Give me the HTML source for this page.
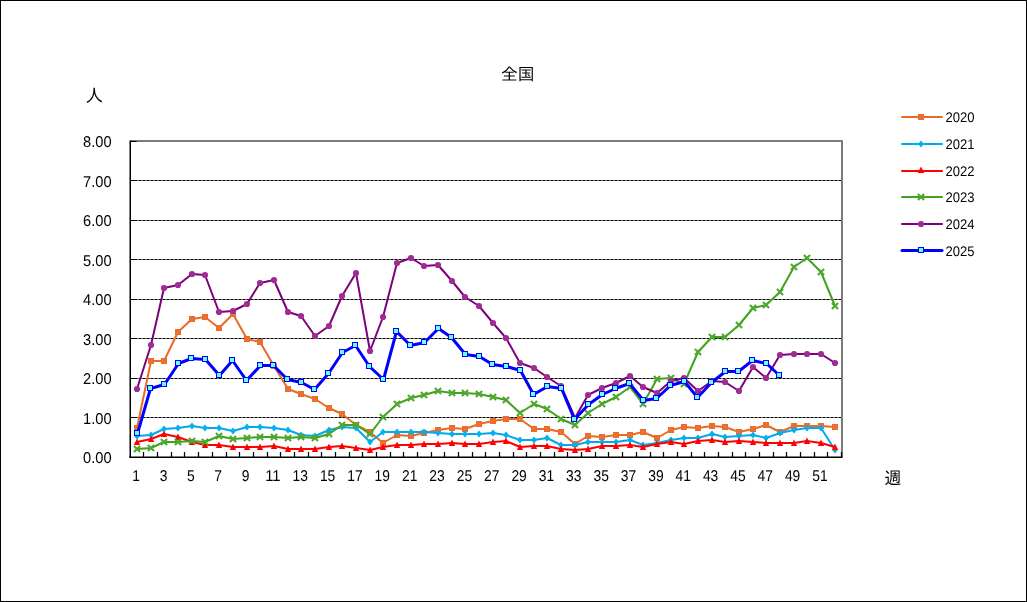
<!DOCTYPE html>
<html lang="ja"><head><meta charset="utf-8"><title>全国</title>
<style>html,body{margin:0;padding:0;background:#fff;}body{width:1027px;height:602px;overflow:hidden;}svg{display:block;font-family:"Liberation Sans","IPAGothic","Noto Sans CJK JP",sans-serif;fill:#000;}.t{font-size:15.6px;text-rendering:geometricPrecision;}.l{font-size:14px;text-rendering:geometricPrecision;}.j{font-size:17px;font-family:"Liberation Sans","IPAGothic","Noto Sans CJK JP",sans-serif;}</style></head><body>
<svg width="1027" height="602" viewBox="0 0 1027 602">
<rect x="0" y="0" width="1027" height="602" fill="#fff"/>
<rect x="0.5" y="0.5" width="1026" height="601" fill="none" stroke="#000" stroke-width="1" shape-rendering="crispEdges"/>
<g stroke="#000" stroke-width="1" stroke-dasharray="3.2 0.8" fill="none">
<line x1="130.4" y1="180.5" x2="841" y2="180.5"/>
<line x1="130.4" y1="220.5" x2="841" y2="220.5"/>
<line x1="130.4" y1="259.5" x2="841" y2="259.5"/>
<line x1="130.4" y1="299.5" x2="841" y2="299.5"/>
<line x1="130.4" y1="338.5" x2="841" y2="338.5"/>
<line x1="130.4" y1="378.5" x2="841" y2="378.5"/>
<line x1="130.4" y1="417.5" x2="841" y2="417.5"/>
</g>
<path d="M130 141H842V457" fill="none" stroke="#7B7B7B" stroke-width="2" stroke-linejoin="round"/>
<rect x="129.5" y="140.5" width="1.5" height="317.5" fill="#000"/>
<rect x="129.5" y="456.5" width="713" height="1.5" fill="#000"/>
<path d="M131 141.5h5.5M131 180.5h5.5M131 220.5h5.5M131 259.5h5.5M131 299.5h5.5M131 338.5h5.5M131 378.5h5.5M131 417.5h5.5" stroke="#000" stroke-width="1" fill="none"/>
<path d="M143.5 457v-5M157.5 457v-5M171.5 457v-5M184.5 457v-5M198.5 457v-5M212.5 457v-5M226.5 457v-5M239.5 457v-5M253.5 457v-5M267.5 457v-5M280.5 457v-5M294.5 457v-5M308.5 457v-5M321.5 457v-5M335.5 457v-5M349.5 457v-5M362.5 457v-5M376.5 457v-5M390.5 457v-5M403.5 457v-5M417.5 457v-5M431.5 457v-5M444.5 457v-5M458.5 457v-5M472.5 457v-5M485.5 457v-5M499.5 457v-5M513.5 457v-5M526.5 457v-5M540.5 457v-5M554.5 457v-5M567.5 457v-5M581.5 457v-5M595.5 457v-5M608.5 457v-5M622.5 457v-5M636.5 457v-5M650.5 457v-5M663.5 457v-5M677.5 457v-5M691.5 457v-5M704.5 457v-5M718.5 457v-5M732.5 457v-5M745.5 457v-5M759.5 457v-5M773.5 457v-5M786.5 457v-5M800.5 457v-5M814.5 457v-5M827.5 457v-5M841.5 457v-5" stroke="#000" stroke-width="1.25" fill="none"/>
<g><polyline points="137,428 151,361 164,361 178,332 192,319 205,317 219,328 233,314 247,339 260,342 274,366 288,389 301,394 315,399 329,408 342,414 356,425 370,432 383,443 397,435 411,436 424,433 438,430 452,428 465,429 479,424 493,421 506,419 520,419 534,429 547,429 561,432 575,444 588,436 602,437 616,435 630,435 643,432 657,438 671,430 684,427 698,428 712,426 725,427 739,432 753,429 766,425 780,432 794,426 807,426 821,426 835,427" fill="none" stroke="#E96A25" stroke-width="2" stroke-linejoin="round" stroke-linecap="round"/>
<rect x="134" y="425" width="6" height="6" fill="#E97132"/><rect x="134.5" y="425.5" width="5" height="5" fill="none" stroke="#E96A25" stroke-opacity="0.6"/><rect x="148" y="358" width="6" height="6" fill="#E97132"/><rect x="148.5" y="358.5" width="5" height="5" fill="none" stroke="#E96A25" stroke-opacity="0.6"/><rect x="161" y="358" width="6" height="6" fill="#E97132"/><rect x="161.5" y="358.5" width="5" height="5" fill="none" stroke="#E96A25" stroke-opacity="0.6"/><rect x="175" y="329" width="6" height="6" fill="#E97132"/><rect x="175.5" y="329.5" width="5" height="5" fill="none" stroke="#E96A25" stroke-opacity="0.6"/><rect x="189" y="316" width="6" height="6" fill="#E97132"/><rect x="189.5" y="316.5" width="5" height="5" fill="none" stroke="#E96A25" stroke-opacity="0.6"/><rect x="202" y="314" width="6" height="6" fill="#E97132"/><rect x="202.5" y="314.5" width="5" height="5" fill="none" stroke="#E96A25" stroke-opacity="0.6"/><rect x="216" y="325" width="6" height="6" fill="#E97132"/><rect x="216.5" y="325.5" width="5" height="5" fill="none" stroke="#E96A25" stroke-opacity="0.6"/><rect x="230" y="311" width="6" height="6" fill="#E97132"/><rect x="230.5" y="311.5" width="5" height="5" fill="none" stroke="#E96A25" stroke-opacity="0.6"/><rect x="244" y="336" width="6" height="6" fill="#E97132"/><rect x="244.5" y="336.5" width="5" height="5" fill="none" stroke="#E96A25" stroke-opacity="0.6"/><rect x="257" y="339" width="6" height="6" fill="#E97132"/><rect x="257.5" y="339.5" width="5" height="5" fill="none" stroke="#E96A25" stroke-opacity="0.6"/><rect x="271" y="363" width="6" height="6" fill="#E97132"/><rect x="271.5" y="363.5" width="5" height="5" fill="none" stroke="#E96A25" stroke-opacity="0.6"/><rect x="285" y="386" width="6" height="6" fill="#E97132"/><rect x="285.5" y="386.5" width="5" height="5" fill="none" stroke="#E96A25" stroke-opacity="0.6"/><rect x="298" y="391" width="6" height="6" fill="#E97132"/><rect x="298.5" y="391.5" width="5" height="5" fill="none" stroke="#E96A25" stroke-opacity="0.6"/><rect x="312" y="396" width="6" height="6" fill="#E97132"/><rect x="312.5" y="396.5" width="5" height="5" fill="none" stroke="#E96A25" stroke-opacity="0.6"/><rect x="326" y="405" width="6" height="6" fill="#E97132"/><rect x="326.5" y="405.5" width="5" height="5" fill="none" stroke="#E96A25" stroke-opacity="0.6"/><rect x="339" y="411" width="6" height="6" fill="#E97132"/><rect x="339.5" y="411.5" width="5" height="5" fill="none" stroke="#E96A25" stroke-opacity="0.6"/><rect x="353" y="422" width="6" height="6" fill="#E97132"/><rect x="353.5" y="422.5" width="5" height="5" fill="none" stroke="#E96A25" stroke-opacity="0.6"/><rect x="367" y="429" width="6" height="6" fill="#E97132"/><rect x="367.5" y="429.5" width="5" height="5" fill="none" stroke="#E96A25" stroke-opacity="0.6"/><rect x="380" y="440" width="6" height="6" fill="#E97132"/><rect x="380.5" y="440.5" width="5" height="5" fill="none" stroke="#E96A25" stroke-opacity="0.6"/><rect x="394" y="432" width="6" height="6" fill="#E97132"/><rect x="394.5" y="432.5" width="5" height="5" fill="none" stroke="#E96A25" stroke-opacity="0.6"/><rect x="408" y="433" width="6" height="6" fill="#E97132"/><rect x="408.5" y="433.5" width="5" height="5" fill="none" stroke="#E96A25" stroke-opacity="0.6"/><rect x="421" y="430" width="6" height="6" fill="#E97132"/><rect x="421.5" y="430.5" width="5" height="5" fill="none" stroke="#E96A25" stroke-opacity="0.6"/><rect x="435" y="427" width="6" height="6" fill="#E97132"/><rect x="435.5" y="427.5" width="5" height="5" fill="none" stroke="#E96A25" stroke-opacity="0.6"/><rect x="449" y="425" width="6" height="6" fill="#E97132"/><rect x="449.5" y="425.5" width="5" height="5" fill="none" stroke="#E96A25" stroke-opacity="0.6"/><rect x="462" y="426" width="6" height="6" fill="#E97132"/><rect x="462.5" y="426.5" width="5" height="5" fill="none" stroke="#E96A25" stroke-opacity="0.6"/><rect x="476" y="421" width="6" height="6" fill="#E97132"/><rect x="476.5" y="421.5" width="5" height="5" fill="none" stroke="#E96A25" stroke-opacity="0.6"/><rect x="490" y="418" width="6" height="6" fill="#E97132"/><rect x="490.5" y="418.5" width="5" height="5" fill="none" stroke="#E96A25" stroke-opacity="0.6"/><rect x="503" y="416" width="6" height="6" fill="#E97132"/><rect x="503.5" y="416.5" width="5" height="5" fill="none" stroke="#E96A25" stroke-opacity="0.6"/><rect x="517" y="416" width="6" height="6" fill="#E97132"/><rect x="517.5" y="416.5" width="5" height="5" fill="none" stroke="#E96A25" stroke-opacity="0.6"/><rect x="531" y="426" width="6" height="6" fill="#E97132"/><rect x="531.5" y="426.5" width="5" height="5" fill="none" stroke="#E96A25" stroke-opacity="0.6"/><rect x="544" y="426" width="6" height="6" fill="#E97132"/><rect x="544.5" y="426.5" width="5" height="5" fill="none" stroke="#E96A25" stroke-opacity="0.6"/><rect x="558" y="429" width="6" height="6" fill="#E97132"/><rect x="558.5" y="429.5" width="5" height="5" fill="none" stroke="#E96A25" stroke-opacity="0.6"/><rect x="572" y="441" width="6" height="6" fill="#E97132"/><rect x="572.5" y="441.5" width="5" height="5" fill="none" stroke="#E96A25" stroke-opacity="0.6"/><rect x="585" y="433" width="6" height="6" fill="#E97132"/><rect x="585.5" y="433.5" width="5" height="5" fill="none" stroke="#E96A25" stroke-opacity="0.6"/><rect x="599" y="434" width="6" height="6" fill="#E97132"/><rect x="599.5" y="434.5" width="5" height="5" fill="none" stroke="#E96A25" stroke-opacity="0.6"/><rect x="613" y="432" width="6" height="6" fill="#E97132"/><rect x="613.5" y="432.5" width="5" height="5" fill="none" stroke="#E96A25" stroke-opacity="0.6"/><rect x="627" y="432" width="6" height="6" fill="#E97132"/><rect x="627.5" y="432.5" width="5" height="5" fill="none" stroke="#E96A25" stroke-opacity="0.6"/><rect x="640" y="429" width="6" height="6" fill="#E97132"/><rect x="640.5" y="429.5" width="5" height="5" fill="none" stroke="#E96A25" stroke-opacity="0.6"/><rect x="654" y="435" width="6" height="6" fill="#E97132"/><rect x="654.5" y="435.5" width="5" height="5" fill="none" stroke="#E96A25" stroke-opacity="0.6"/><rect x="668" y="427" width="6" height="6" fill="#E97132"/><rect x="668.5" y="427.5" width="5" height="5" fill="none" stroke="#E96A25" stroke-opacity="0.6"/><rect x="681" y="424" width="6" height="6" fill="#E97132"/><rect x="681.5" y="424.5" width="5" height="5" fill="none" stroke="#E96A25" stroke-opacity="0.6"/><rect x="695" y="425" width="6" height="6" fill="#E97132"/><rect x="695.5" y="425.5" width="5" height="5" fill="none" stroke="#E96A25" stroke-opacity="0.6"/><rect x="709" y="423" width="6" height="6" fill="#E97132"/><rect x="709.5" y="423.5" width="5" height="5" fill="none" stroke="#E96A25" stroke-opacity="0.6"/><rect x="722" y="424" width="6" height="6" fill="#E97132"/><rect x="722.5" y="424.5" width="5" height="5" fill="none" stroke="#E96A25" stroke-opacity="0.6"/><rect x="736" y="429" width="6" height="6" fill="#E97132"/><rect x="736.5" y="429.5" width="5" height="5" fill="none" stroke="#E96A25" stroke-opacity="0.6"/><rect x="750" y="426" width="6" height="6" fill="#E97132"/><rect x="750.5" y="426.5" width="5" height="5" fill="none" stroke="#E96A25" stroke-opacity="0.6"/><rect x="763" y="422" width="6" height="6" fill="#E97132"/><rect x="763.5" y="422.5" width="5" height="5" fill="none" stroke="#E96A25" stroke-opacity="0.6"/><rect x="777" y="429" width="6" height="6" fill="#E97132"/><rect x="777.5" y="429.5" width="5" height="5" fill="none" stroke="#E96A25" stroke-opacity="0.6"/><rect x="791" y="423" width="6" height="6" fill="#E97132"/><rect x="791.5" y="423.5" width="5" height="5" fill="none" stroke="#E96A25" stroke-opacity="0.6"/><rect x="804" y="423" width="6" height="6" fill="#E97132"/><rect x="804.5" y="423.5" width="5" height="5" fill="none" stroke="#E96A25" stroke-opacity="0.6"/><rect x="818" y="423" width="6" height="6" fill="#E97132"/><rect x="818.5" y="423.5" width="5" height="5" fill="none" stroke="#E96A25" stroke-opacity="0.6"/><rect x="832" y="424" width="6" height="6" fill="#E97132"/><rect x="832.5" y="424.5" width="5" height="5" fill="none" stroke="#E96A25" stroke-opacity="0.6"/>
</g>
<g><polyline points="137,436 151,435 164,429 178,428 192,426 205,428 219,428 233,431 247,427 260,427 274,428 288,430 301,435 315,436 329,430 342,427 356,428 370,442 383,432 397,432 411,432 424,432 438,433 452,434 465,434 479,434 493,433 506,435 520,440 534,440 547,438 561,445 575,445 588,442 602,442 616,442 630,440 643,445 657,443 671,440 684,438 698,438 712,434 725,437 739,436 753,435 766,438 780,433 794,430 807,428 821,428 835,450" fill="none" stroke="#00A9EE" stroke-width="2" stroke-linejoin="round" stroke-linecap="round"/>
<path d="M137 432.6L139.9 436L137 439.4L134.1 436Z" fill="#00B0F0"/><path d="M151 431.6L153.9 435L151 438.4L148.1 435Z" fill="#00B0F0"/><path d="M164 425.6L166.9 429L164 432.4L161.1 429Z" fill="#00B0F0"/><path d="M178 424.6L180.9 428L178 431.4L175.1 428Z" fill="#00B0F0"/><path d="M192 422.6L194.9 426L192 429.4L189.1 426Z" fill="#00B0F0"/><path d="M205 424.6L207.9 428L205 431.4L202.1 428Z" fill="#00B0F0"/><path d="M219 424.6L221.9 428L219 431.4L216.1 428Z" fill="#00B0F0"/><path d="M233 427.6L235.9 431L233 434.4L230.1 431Z" fill="#00B0F0"/><path d="M247 423.6L249.9 427L247 430.4L244.1 427Z" fill="#00B0F0"/><path d="M260 423.6L262.9 427L260 430.4L257.1 427Z" fill="#00B0F0"/><path d="M274 424.6L276.9 428L274 431.4L271.1 428Z" fill="#00B0F0"/><path d="M288 426.6L290.9 430L288 433.4L285.1 430Z" fill="#00B0F0"/><path d="M301 431.6L303.9 435L301 438.4L298.1 435Z" fill="#00B0F0"/><path d="M315 432.6L317.9 436L315 439.4L312.1 436Z" fill="#00B0F0"/><path d="M329 426.6L331.9 430L329 433.4L326.1 430Z" fill="#00B0F0"/><path d="M342 423.6L344.9 427L342 430.4L339.1 427Z" fill="#00B0F0"/><path d="M356 424.6L358.9 428L356 431.4L353.1 428Z" fill="#00B0F0"/><path d="M370 438.6L372.9 442L370 445.4L367.1 442Z" fill="#00B0F0"/><path d="M383 428.6L385.9 432L383 435.4L380.1 432Z" fill="#00B0F0"/><path d="M397 428.6L399.9 432L397 435.4L394.1 432Z" fill="#00B0F0"/><path d="M411 428.6L413.9 432L411 435.4L408.1 432Z" fill="#00B0F0"/><path d="M424 428.6L426.9 432L424 435.4L421.1 432Z" fill="#00B0F0"/><path d="M438 429.6L440.9 433L438 436.4L435.1 433Z" fill="#00B0F0"/><path d="M452 430.6L454.9 434L452 437.4L449.1 434Z" fill="#00B0F0"/><path d="M465 430.6L467.9 434L465 437.4L462.1 434Z" fill="#00B0F0"/><path d="M479 430.6L481.9 434L479 437.4L476.1 434Z" fill="#00B0F0"/><path d="M493 429.6L495.9 433L493 436.4L490.1 433Z" fill="#00B0F0"/><path d="M506 431.6L508.9 435L506 438.4L503.1 435Z" fill="#00B0F0"/><path d="M520 436.6L522.9 440L520 443.4L517.1 440Z" fill="#00B0F0"/><path d="M534 436.6L536.9 440L534 443.4L531.1 440Z" fill="#00B0F0"/><path d="M547 434.6L549.9 438L547 441.4L544.1 438Z" fill="#00B0F0"/><path d="M561 441.6L563.9 445L561 448.4L558.1 445Z" fill="#00B0F0"/><path d="M575 441.6L577.9 445L575 448.4L572.1 445Z" fill="#00B0F0"/><path d="M588 438.6L590.9 442L588 445.4L585.1 442Z" fill="#00B0F0"/><path d="M602 438.6L604.9 442L602 445.4L599.1 442Z" fill="#00B0F0"/><path d="M616 438.6L618.9 442L616 445.4L613.1 442Z" fill="#00B0F0"/><path d="M630 436.6L632.9 440L630 443.4L627.1 440Z" fill="#00B0F0"/><path d="M643 441.6L645.9 445L643 448.4L640.1 445Z" fill="#00B0F0"/><path d="M657 439.6L659.9 443L657 446.4L654.1 443Z" fill="#00B0F0"/><path d="M671 436.6L673.9 440L671 443.4L668.1 440Z" fill="#00B0F0"/><path d="M684 434.6L686.9 438L684 441.4L681.1 438Z" fill="#00B0F0"/><path d="M698 434.6L700.9 438L698 441.4L695.1 438Z" fill="#00B0F0"/><path d="M712 430.6L714.9 434L712 437.4L709.1 434Z" fill="#00B0F0"/><path d="M725 433.6L727.9 437L725 440.4L722.1 437Z" fill="#00B0F0"/><path d="M739 432.6L741.9 436L739 439.4L736.1 436Z" fill="#00B0F0"/><path d="M753 431.6L755.9 435L753 438.4L750.1 435Z" fill="#00B0F0"/><path d="M766 434.6L768.9 438L766 441.4L763.1 438Z" fill="#00B0F0"/><path d="M780 429.6L782.9 433L780 436.4L777.1 433Z" fill="#00B0F0"/><path d="M794 426.6L796.9 430L794 433.4L791.1 430Z" fill="#00B0F0"/><path d="M807 424.6L809.9 428L807 431.4L804.1 428Z" fill="#00B0F0"/><path d="M821 424.6L823.9 428L821 431.4L818.1 428Z" fill="#00B0F0"/><path d="M835 446.6L837.9 450L835 453.4L832.1 450Z" fill="#00B0F0"/>
</g>
<g><polyline points="137,442 151,439 164,434 178,437 192,442 205,445 219,445 233,447 247,447 260,447 274,446 288,449 301,449 315,449 329,447 342,446 356,448 370,450 383,447 397,445 411,445 424,444 438,444 452,443 465,444 479,444 493,442 506,441 520,447 534,446 547,446 561,449 575,450 588,449 602,446 616,446 630,445 643,447 657,444 671,442 684,444 698,441 712,440 725,442 739,441 753,442 766,443 780,443 794,443 807,441 821,443 835,447" fill="none" stroke="#FF0000" stroke-width="2" stroke-linejoin="round" stroke-linecap="round"/>
<path d="M137 438.6L140.2 444.9L133.8 444.9Z" fill="#FF0000"/><path d="M151 435.6L154.2 441.9L147.8 441.9Z" fill="#FF0000"/><path d="M164 430.6L167.2 436.9L160.8 436.9Z" fill="#FF0000"/><path d="M178 433.6L181.2 439.9L174.8 439.9Z" fill="#FF0000"/><path d="M192 438.6L195.2 444.9L188.8 444.9Z" fill="#FF0000"/><path d="M205 441.6L208.2 447.9L201.8 447.9Z" fill="#FF0000"/><path d="M219 441.6L222.2 447.9L215.8 447.9Z" fill="#FF0000"/><path d="M233 443.6L236.2 449.9L229.8 449.9Z" fill="#FF0000"/><path d="M247 443.6L250.2 449.9L243.8 449.9Z" fill="#FF0000"/><path d="M260 443.6L263.2 449.9L256.8 449.9Z" fill="#FF0000"/><path d="M274 442.6L277.2 448.9L270.8 448.9Z" fill="#FF0000"/><path d="M288 445.6L291.2 451.9L284.8 451.9Z" fill="#FF0000"/><path d="M301 445.6L304.2 451.9L297.8 451.9Z" fill="#FF0000"/><path d="M315 445.6L318.2 451.9L311.8 451.9Z" fill="#FF0000"/><path d="M329 443.6L332.2 449.9L325.8 449.9Z" fill="#FF0000"/><path d="M342 442.6L345.2 448.9L338.8 448.9Z" fill="#FF0000"/><path d="M356 444.6L359.2 450.9L352.8 450.9Z" fill="#FF0000"/><path d="M370 446.6L373.2 452.9L366.8 452.9Z" fill="#FF0000"/><path d="M383 443.6L386.2 449.9L379.8 449.9Z" fill="#FF0000"/><path d="M397 441.6L400.2 447.9L393.8 447.9Z" fill="#FF0000"/><path d="M411 441.6L414.2 447.9L407.8 447.9Z" fill="#FF0000"/><path d="M424 440.6L427.2 446.9L420.8 446.9Z" fill="#FF0000"/><path d="M438 440.6L441.2 446.9L434.8 446.9Z" fill="#FF0000"/><path d="M452 439.6L455.2 445.9L448.8 445.9Z" fill="#FF0000"/><path d="M465 440.6L468.2 446.9L461.8 446.9Z" fill="#FF0000"/><path d="M479 440.6L482.2 446.9L475.8 446.9Z" fill="#FF0000"/><path d="M493 438.6L496.2 444.9L489.8 444.9Z" fill="#FF0000"/><path d="M506 437.6L509.2 443.9L502.8 443.9Z" fill="#FF0000"/><path d="M520 443.6L523.2 449.9L516.8 449.9Z" fill="#FF0000"/><path d="M534 442.6L537.2 448.9L530.8 448.9Z" fill="#FF0000"/><path d="M547 442.6L550.2 448.9L543.8 448.9Z" fill="#FF0000"/><path d="M561 445.6L564.2 451.9L557.8 451.9Z" fill="#FF0000"/><path d="M575 446.6L578.2 452.9L571.8 452.9Z" fill="#FF0000"/><path d="M588 445.6L591.2 451.9L584.8 451.9Z" fill="#FF0000"/><path d="M602 442.6L605.2 448.9L598.8 448.9Z" fill="#FF0000"/><path d="M616 442.6L619.2 448.9L612.8 448.9Z" fill="#FF0000"/><path d="M630 441.6L633.2 447.9L626.8 447.9Z" fill="#FF0000"/><path d="M643 443.6L646.2 449.9L639.8 449.9Z" fill="#FF0000"/><path d="M657 440.6L660.2 446.9L653.8 446.9Z" fill="#FF0000"/><path d="M671 438.6L674.2 444.9L667.8 444.9Z" fill="#FF0000"/><path d="M684 440.6L687.2 446.9L680.8 446.9Z" fill="#FF0000"/><path d="M698 437.6L701.2 443.9L694.8 443.9Z" fill="#FF0000"/><path d="M712 436.6L715.2 442.9L708.8 442.9Z" fill="#FF0000"/><path d="M725 438.6L728.2 444.9L721.8 444.9Z" fill="#FF0000"/><path d="M739 437.6L742.2 443.9L735.8 443.9Z" fill="#FF0000"/><path d="M753 438.6L756.2 444.9L749.8 444.9Z" fill="#FF0000"/><path d="M766 439.6L769.2 445.9L762.8 445.9Z" fill="#FF0000"/><path d="M780 439.6L783.2 445.9L776.8 445.9Z" fill="#FF0000"/><path d="M794 439.6L797.2 445.9L790.8 445.9Z" fill="#FF0000"/><path d="M807 437.6L810.2 443.9L803.8 443.9Z" fill="#FF0000"/><path d="M821 439.6L824.2 445.9L817.8 445.9Z" fill="#FF0000"/><path d="M835 443.6L838.2 449.9L831.8 449.9Z" fill="#FF0000"/>
</g>
<g><polyline points="137,449 151,448 164,442 178,442 192,441 205,442 219,436 233,439 247,438 260,437 274,437 288,438 301,437 315,438 329,434 342,425 356,425 370,434 383,417 397,404 411,398 424,395 438,391 452,393 465,393 479,394 493,397 506,400 520,413 534,404 547,409 561,419 575,425 588,413 602,404 616,397 630,387 643,404 657,379 671,378 684,384 698,352 712,337 725,337 739,325 753,308 766,305 780,292 794,267 807,258 821,272 835,306" fill="none" stroke="#41A21E" stroke-width="2" stroke-linejoin="round" stroke-linecap="round"/>
<path d="M133.9 445.9L140.1 452.1M133.9 452.1L140.1 445.9" stroke="#4EA72E" stroke-width="2.1" stroke-linecap="butt" fill="none"/><path d="M147.9 444.9L154.1 451.1M147.9 451.1L154.1 444.9" stroke="#4EA72E" stroke-width="2.1" stroke-linecap="butt" fill="none"/><path d="M160.9 438.9L167.1 445.1M160.9 445.1L167.1 438.9" stroke="#4EA72E" stroke-width="2.1" stroke-linecap="butt" fill="none"/><path d="M174.9 438.9L181.1 445.1M174.9 445.1L181.1 438.9" stroke="#4EA72E" stroke-width="2.1" stroke-linecap="butt" fill="none"/><path d="M188.9 437.9L195.1 444.1M188.9 444.1L195.1 437.9" stroke="#4EA72E" stroke-width="2.1" stroke-linecap="butt" fill="none"/><path d="M201.9 438.9L208.1 445.1M201.9 445.1L208.1 438.9" stroke="#4EA72E" stroke-width="2.1" stroke-linecap="butt" fill="none"/><path d="M215.9 432.9L222.1 439.1M215.9 439.1L222.1 432.9" stroke="#4EA72E" stroke-width="2.1" stroke-linecap="butt" fill="none"/><path d="M229.9 435.9L236.1 442.1M229.9 442.1L236.1 435.9" stroke="#4EA72E" stroke-width="2.1" stroke-linecap="butt" fill="none"/><path d="M243.9 434.9L250.1 441.1M243.9 441.1L250.1 434.9" stroke="#4EA72E" stroke-width="2.1" stroke-linecap="butt" fill="none"/><path d="M256.9 433.9L263.1 440.1M256.9 440.1L263.1 433.9" stroke="#4EA72E" stroke-width="2.1" stroke-linecap="butt" fill="none"/><path d="M270.9 433.9L277.1 440.1M270.9 440.1L277.1 433.9" stroke="#4EA72E" stroke-width="2.1" stroke-linecap="butt" fill="none"/><path d="M284.9 434.9L291.1 441.1M284.9 441.1L291.1 434.9" stroke="#4EA72E" stroke-width="2.1" stroke-linecap="butt" fill="none"/><path d="M297.9 433.9L304.1 440.1M297.9 440.1L304.1 433.9" stroke="#4EA72E" stroke-width="2.1" stroke-linecap="butt" fill="none"/><path d="M311.9 434.9L318.1 441.1M311.9 441.1L318.1 434.9" stroke="#4EA72E" stroke-width="2.1" stroke-linecap="butt" fill="none"/><path d="M325.9 430.9L332.1 437.1M325.9 437.1L332.1 430.9" stroke="#4EA72E" stroke-width="2.1" stroke-linecap="butt" fill="none"/><path d="M338.9 421.9L345.1 428.1M338.9 428.1L345.1 421.9" stroke="#4EA72E" stroke-width="2.1" stroke-linecap="butt" fill="none"/><path d="M352.9 421.9L359.1 428.1M352.9 428.1L359.1 421.9" stroke="#4EA72E" stroke-width="2.1" stroke-linecap="butt" fill="none"/><path d="M366.9 430.9L373.1 437.1M366.9 437.1L373.1 430.9" stroke="#4EA72E" stroke-width="2.1" stroke-linecap="butt" fill="none"/><path d="M379.9 413.9L386.1 420.1M379.9 420.1L386.1 413.9" stroke="#4EA72E" stroke-width="2.1" stroke-linecap="butt" fill="none"/><path d="M393.9 400.9L400.1 407.1M393.9 407.1L400.1 400.9" stroke="#4EA72E" stroke-width="2.1" stroke-linecap="butt" fill="none"/><path d="M407.9 394.9L414.1 401.1M407.9 401.1L414.1 394.9" stroke="#4EA72E" stroke-width="2.1" stroke-linecap="butt" fill="none"/><path d="M420.9 391.9L427.1 398.1M420.9 398.1L427.1 391.9" stroke="#4EA72E" stroke-width="2.1" stroke-linecap="butt" fill="none"/><path d="M434.9 387.9L441.1 394.1M434.9 394.1L441.1 387.9" stroke="#4EA72E" stroke-width="2.1" stroke-linecap="butt" fill="none"/><path d="M448.9 389.9L455.1 396.1M448.9 396.1L455.1 389.9" stroke="#4EA72E" stroke-width="2.1" stroke-linecap="butt" fill="none"/><path d="M461.9 389.9L468.1 396.1M461.9 396.1L468.1 389.9" stroke="#4EA72E" stroke-width="2.1" stroke-linecap="butt" fill="none"/><path d="M475.9 390.9L482.1 397.1M475.9 397.1L482.1 390.9" stroke="#4EA72E" stroke-width="2.1" stroke-linecap="butt" fill="none"/><path d="M489.9 393.9L496.1 400.1M489.9 400.1L496.1 393.9" stroke="#4EA72E" stroke-width="2.1" stroke-linecap="butt" fill="none"/><path d="M502.9 396.9L509.1 403.1M502.9 403.1L509.1 396.9" stroke="#4EA72E" stroke-width="2.1" stroke-linecap="butt" fill="none"/><path d="M516.9 409.9L523.1 416.1M516.9 416.1L523.1 409.9" stroke="#4EA72E" stroke-width="2.1" stroke-linecap="butt" fill="none"/><path d="M530.9 400.9L537.1 407.1M530.9 407.1L537.1 400.9" stroke="#4EA72E" stroke-width="2.1" stroke-linecap="butt" fill="none"/><path d="M543.9 405.9L550.1 412.1M543.9 412.1L550.1 405.9" stroke="#4EA72E" stroke-width="2.1" stroke-linecap="butt" fill="none"/><path d="M557.9 415.9L564.1 422.1M557.9 422.1L564.1 415.9" stroke="#4EA72E" stroke-width="2.1" stroke-linecap="butt" fill="none"/><path d="M571.9 421.9L578.1 428.1M571.9 428.1L578.1 421.9" stroke="#4EA72E" stroke-width="2.1" stroke-linecap="butt" fill="none"/><path d="M584.9 409.9L591.1 416.1M584.9 416.1L591.1 409.9" stroke="#4EA72E" stroke-width="2.1" stroke-linecap="butt" fill="none"/><path d="M598.9 400.9L605.1 407.1M598.9 407.1L605.1 400.9" stroke="#4EA72E" stroke-width="2.1" stroke-linecap="butt" fill="none"/><path d="M612.9 393.9L619.1 400.1M612.9 400.1L619.1 393.9" stroke="#4EA72E" stroke-width="2.1" stroke-linecap="butt" fill="none"/><path d="M626.9 383.9L633.1 390.1M626.9 390.1L633.1 383.9" stroke="#4EA72E" stroke-width="2.1" stroke-linecap="butt" fill="none"/><path d="M639.9 400.9L646.1 407.1M639.9 407.1L646.1 400.9" stroke="#4EA72E" stroke-width="2.1" stroke-linecap="butt" fill="none"/><path d="M653.9 375.9L660.1 382.1M653.9 382.1L660.1 375.9" stroke="#4EA72E" stroke-width="2.1" stroke-linecap="butt" fill="none"/><path d="M667.9 374.9L674.1 381.1M667.9 381.1L674.1 374.9" stroke="#4EA72E" stroke-width="2.1" stroke-linecap="butt" fill="none"/><path d="M680.9 380.9L687.1 387.1M680.9 387.1L687.1 380.9" stroke="#4EA72E" stroke-width="2.1" stroke-linecap="butt" fill="none"/><path d="M694.9 348.9L701.1 355.1M694.9 355.1L701.1 348.9" stroke="#4EA72E" stroke-width="2.1" stroke-linecap="butt" fill="none"/><path d="M708.9 333.9L715.1 340.1M708.9 340.1L715.1 333.9" stroke="#4EA72E" stroke-width="2.1" stroke-linecap="butt" fill="none"/><path d="M721.9 333.9L728.1 340.1M721.9 340.1L728.1 333.9" stroke="#4EA72E" stroke-width="2.1" stroke-linecap="butt" fill="none"/><path d="M735.9 321.9L742.1 328.1M735.9 328.1L742.1 321.9" stroke="#4EA72E" stroke-width="2.1" stroke-linecap="butt" fill="none"/><path d="M749.9 304.9L756.1 311.1M749.9 311.1L756.1 304.9" stroke="#4EA72E" stroke-width="2.1" stroke-linecap="butt" fill="none"/><path d="M762.9 301.9L769.1 308.1M762.9 308.1L769.1 301.9" stroke="#4EA72E" stroke-width="2.1" stroke-linecap="butt" fill="none"/><path d="M776.9 288.9L783.1 295.1M776.9 295.1L783.1 288.9" stroke="#4EA72E" stroke-width="2.1" stroke-linecap="butt" fill="none"/><path d="M790.9 263.9L797.1 270.1M790.9 270.1L797.1 263.9" stroke="#4EA72E" stroke-width="2.1" stroke-linecap="butt" fill="none"/><path d="M803.9 254.9L810.1 261.1M803.9 261.1L810.1 254.9" stroke="#4EA72E" stroke-width="2.1" stroke-linecap="butt" fill="none"/><path d="M817.9 268.9L824.1 275.1M817.9 275.1L824.1 268.9" stroke="#4EA72E" stroke-width="2.1" stroke-linecap="butt" fill="none"/><path d="M831.9 302.9L838.1 309.1M831.9 309.1L838.1 302.9" stroke="#4EA72E" stroke-width="2.1" stroke-linecap="butt" fill="none"/>
</g>
<g><polyline points="137,389 151,345 164,288 178,285 192,274 205,275 219,312 233,311 247,304 260,283 274,280 288,312 301,316 315,336 329,326 342,296 356,273 370,351 383,317 397,263 411,258 424,266 438,265 452,281 465,297 479,306 493,323 506,338 520,363 534,368 547,377 561,386 575,418 588,395 602,388 616,383 630,376 643,387 657,393 671,381 684,378 698,391 712,381 725,382 739,391 753,367 766,378 780,355 794,354 807,354 821,354 835,363" fill="none" stroke="#7D007D" stroke-width="2" stroke-linejoin="round" stroke-linecap="round"/>
<circle cx="137" cy="389" r="3.1" fill="#A02B93"/><circle cx="151" cy="345" r="3.1" fill="#A02B93"/><circle cx="164" cy="288" r="3.1" fill="#A02B93"/><circle cx="178" cy="285" r="3.1" fill="#A02B93"/><circle cx="192" cy="274" r="3.1" fill="#A02B93"/><circle cx="205" cy="275" r="3.1" fill="#A02B93"/><circle cx="219" cy="312" r="3.1" fill="#A02B93"/><circle cx="233" cy="311" r="3.1" fill="#A02B93"/><circle cx="247" cy="304" r="3.1" fill="#A02B93"/><circle cx="260" cy="283" r="3.1" fill="#A02B93"/><circle cx="274" cy="280" r="3.1" fill="#A02B93"/><circle cx="288" cy="312" r="3.1" fill="#A02B93"/><circle cx="301" cy="316" r="3.1" fill="#A02B93"/><circle cx="315" cy="336" r="3.1" fill="#A02B93"/><circle cx="329" cy="326" r="3.1" fill="#A02B93"/><circle cx="342" cy="296" r="3.1" fill="#A02B93"/><circle cx="356" cy="273" r="3.1" fill="#A02B93"/><circle cx="370" cy="351" r="3.1" fill="#A02B93"/><circle cx="383" cy="317" r="3.1" fill="#A02B93"/><circle cx="397" cy="263" r="3.1" fill="#A02B93"/><circle cx="411" cy="258" r="3.1" fill="#A02B93"/><circle cx="424" cy="266" r="3.1" fill="#A02B93"/><circle cx="438" cy="265" r="3.1" fill="#A02B93"/><circle cx="452" cy="281" r="3.1" fill="#A02B93"/><circle cx="465" cy="297" r="3.1" fill="#A02B93"/><circle cx="479" cy="306" r="3.1" fill="#A02B93"/><circle cx="493" cy="323" r="3.1" fill="#A02B93"/><circle cx="506" cy="338" r="3.1" fill="#A02B93"/><circle cx="520" cy="363" r="3.1" fill="#A02B93"/><circle cx="534" cy="368" r="3.1" fill="#A02B93"/><circle cx="547" cy="377" r="3.1" fill="#A02B93"/><circle cx="561" cy="386" r="3.1" fill="#A02B93"/><circle cx="575" cy="418" r="3.1" fill="#A02B93"/><circle cx="588" cy="395" r="3.1" fill="#A02B93"/><circle cx="602" cy="388" r="3.1" fill="#A02B93"/><circle cx="616" cy="383" r="3.1" fill="#A02B93"/><circle cx="630" cy="376" r="3.1" fill="#A02B93"/><circle cx="643" cy="387" r="3.1" fill="#A02B93"/><circle cx="657" cy="393" r="3.1" fill="#A02B93"/><circle cx="671" cy="381" r="3.1" fill="#A02B93"/><circle cx="684" cy="378" r="3.1" fill="#A02B93"/><circle cx="698" cy="391" r="3.1" fill="#A02B93"/><circle cx="712" cy="381" r="3.1" fill="#A02B93"/><circle cx="725" cy="382" r="3.1" fill="#A02B93"/><circle cx="739" cy="391" r="3.1" fill="#A02B93"/><circle cx="753" cy="367" r="3.1" fill="#A02B93"/><circle cx="766" cy="378" r="3.1" fill="#A02B93"/><circle cx="780" cy="355" r="3.1" fill="#A02B93"/><circle cx="794" cy="354" r="3.1" fill="#A02B93"/><circle cx="807" cy="354" r="3.1" fill="#A02B93"/><circle cx="821" cy="354" r="3.1" fill="#A02B93"/><circle cx="835" cy="363" r="3.1" fill="#A02B93"/>
</g>
<g><polyline points="137.5,433.5 150.5,388.5 164.5,384.5 178.5,363.5 191.5,358.5 205.5,359.5 219.5,375.5 232.5,360.5 246.5,380.5 260.5,365.5 273.5,365.5 287.5,379.5 301.5,382.5 314.5,389.5 328.5,373.5 342.5,352.5 355.5,345.5 369.5,366.5 383.5,379.5 396.5,331.5 410.5,345.5 424.5,342.5 438.5,328.5 451.5,337.5 465.5,354.5 479.5,356.5 492.5,364.5 506.5,366.5 520.5,370.5 533.5,394.5 547.5,386.5 561.5,388.5 574.5,419.5 588.5,404.5 602.5,394.5 615.5,388.5 629.5,383.5 643.5,400.5 656.5,398.5 670.5,385.5 684.5,381.5 697.5,397.5 711.5,382.5 725.5,371.5 738.5,371.5 752.5,360.5 766.5,363.5 779.5,375.5" fill="none" stroke="#0000FF" stroke-width="3" stroke-linejoin="round" stroke-linecap="round"/>
<rect x="134" y="430" width="6" height="6" fill="#0000FF"/><rect x="135" y="431" width="4" height="4" fill="#66FFFF"/><rect x="147" y="385" width="6" height="6" fill="#0000FF"/><rect x="148" y="386" width="4" height="4" fill="#66FFFF"/><rect x="161" y="381" width="6" height="6" fill="#0000FF"/><rect x="162" y="382" width="4" height="4" fill="#66FFFF"/><rect x="175" y="360" width="6" height="6" fill="#0000FF"/><rect x="176" y="361" width="4" height="4" fill="#66FFFF"/><rect x="188" y="355" width="6" height="6" fill="#0000FF"/><rect x="189" y="356" width="4" height="4" fill="#66FFFF"/><rect x="202" y="356" width="6" height="6" fill="#0000FF"/><rect x="203" y="357" width="4" height="4" fill="#66FFFF"/><rect x="216" y="372" width="6" height="6" fill="#0000FF"/><rect x="217" y="373" width="4" height="4" fill="#66FFFF"/><rect x="229" y="357" width="6" height="6" fill="#0000FF"/><rect x="230" y="358" width="4" height="4" fill="#66FFFF"/><rect x="243" y="377" width="6" height="6" fill="#0000FF"/><rect x="244" y="378" width="4" height="4" fill="#66FFFF"/><rect x="257" y="362" width="6" height="6" fill="#0000FF"/><rect x="258" y="363" width="4" height="4" fill="#66FFFF"/><rect x="270" y="362" width="6" height="6" fill="#0000FF"/><rect x="271" y="363" width="4" height="4" fill="#66FFFF"/><rect x="284" y="376" width="6" height="6" fill="#0000FF"/><rect x="285" y="377" width="4" height="4" fill="#66FFFF"/><rect x="298" y="379" width="6" height="6" fill="#0000FF"/><rect x="299" y="380" width="4" height="4" fill="#66FFFF"/><rect x="311" y="386" width="6" height="6" fill="#0000FF"/><rect x="312" y="387" width="4" height="4" fill="#66FFFF"/><rect x="325" y="370" width="6" height="6" fill="#0000FF"/><rect x="326" y="371" width="4" height="4" fill="#66FFFF"/><rect x="339" y="349" width="6" height="6" fill="#0000FF"/><rect x="340" y="350" width="4" height="4" fill="#66FFFF"/><rect x="352" y="342" width="6" height="6" fill="#0000FF"/><rect x="353" y="343" width="4" height="4" fill="#66FFFF"/><rect x="366" y="363" width="6" height="6" fill="#0000FF"/><rect x="367" y="364" width="4" height="4" fill="#66FFFF"/><rect x="380" y="376" width="6" height="6" fill="#0000FF"/><rect x="381" y="377" width="4" height="4" fill="#66FFFF"/><rect x="393" y="328" width="6" height="6" fill="#0000FF"/><rect x="394" y="329" width="4" height="4" fill="#66FFFF"/><rect x="407" y="342" width="6" height="6" fill="#0000FF"/><rect x="408" y="343" width="4" height="4" fill="#66FFFF"/><rect x="421" y="339" width="6" height="6" fill="#0000FF"/><rect x="422" y="340" width="4" height="4" fill="#66FFFF"/><rect x="435" y="325" width="6" height="6" fill="#0000FF"/><rect x="436" y="326" width="4" height="4" fill="#66FFFF"/><rect x="448" y="334" width="6" height="6" fill="#0000FF"/><rect x="449" y="335" width="4" height="4" fill="#66FFFF"/><rect x="462" y="351" width="6" height="6" fill="#0000FF"/><rect x="463" y="352" width="4" height="4" fill="#66FFFF"/><rect x="476" y="353" width="6" height="6" fill="#0000FF"/><rect x="477" y="354" width="4" height="4" fill="#66FFFF"/><rect x="489" y="361" width="6" height="6" fill="#0000FF"/><rect x="490" y="362" width="4" height="4" fill="#66FFFF"/><rect x="503" y="363" width="6" height="6" fill="#0000FF"/><rect x="504" y="364" width="4" height="4" fill="#66FFFF"/><rect x="517" y="367" width="6" height="6" fill="#0000FF"/><rect x="518" y="368" width="4" height="4" fill="#66FFFF"/><rect x="530" y="391" width="6" height="6" fill="#0000FF"/><rect x="531" y="392" width="4" height="4" fill="#66FFFF"/><rect x="544" y="383" width="6" height="6" fill="#0000FF"/><rect x="545" y="384" width="4" height="4" fill="#66FFFF"/><rect x="558" y="385" width="6" height="6" fill="#0000FF"/><rect x="559" y="386" width="4" height="4" fill="#66FFFF"/><rect x="571" y="416" width="6" height="6" fill="#0000FF"/><rect x="572" y="417" width="4" height="4" fill="#66FFFF"/><rect x="585" y="401" width="6" height="6" fill="#0000FF"/><rect x="586" y="402" width="4" height="4" fill="#66FFFF"/><rect x="599" y="391" width="6" height="6" fill="#0000FF"/><rect x="600" y="392" width="4" height="4" fill="#66FFFF"/><rect x="612" y="385" width="6" height="6" fill="#0000FF"/><rect x="613" y="386" width="4" height="4" fill="#66FFFF"/><rect x="626" y="380" width="6" height="6" fill="#0000FF"/><rect x="627" y="381" width="4" height="4" fill="#66FFFF"/><rect x="640" y="397" width="6" height="6" fill="#0000FF"/><rect x="641" y="398" width="4" height="4" fill="#66FFFF"/><rect x="653" y="395" width="6" height="6" fill="#0000FF"/><rect x="654" y="396" width="4" height="4" fill="#66FFFF"/><rect x="667" y="382" width="6" height="6" fill="#0000FF"/><rect x="668" y="383" width="4" height="4" fill="#66FFFF"/><rect x="681" y="378" width="6" height="6" fill="#0000FF"/><rect x="682" y="379" width="4" height="4" fill="#66FFFF"/><rect x="694" y="394" width="6" height="6" fill="#0000FF"/><rect x="695" y="395" width="4" height="4" fill="#66FFFF"/><rect x="708" y="379" width="6" height="6" fill="#0000FF"/><rect x="709" y="380" width="4" height="4" fill="#66FFFF"/><rect x="722" y="368" width="6" height="6" fill="#0000FF"/><rect x="723" y="369" width="4" height="4" fill="#66FFFF"/><rect x="735" y="368" width="6" height="6" fill="#0000FF"/><rect x="736" y="369" width="4" height="4" fill="#66FFFF"/><rect x="749" y="357" width="6" height="6" fill="#0000FF"/><rect x="750" y="358" width="4" height="4" fill="#66FFFF"/><rect x="763" y="360" width="6" height="6" fill="#0000FF"/><rect x="764" y="361" width="4" height="4" fill="#66FFFF"/><rect x="776" y="372" width="6" height="6" fill="#0000FF"/><rect x="777" y="373" width="4" height="4" fill="#66FFFF"/>
</g>
<line x1="902" y1="117" x2="942" y2="117" stroke="#E96A25" stroke-width="2" stroke-linecap="round"/>
<rect x="918" y="114" width="6" height="6" fill="#E97132"/><rect x="918.5" y="114.5" width="5" height="5" fill="none" stroke="#E96A25" stroke-opacity="0.6"/>
<text class="l" x="945.5" y="122" textLength="29" lengthAdjust="spacingAndGlyphs">2020</text>
<line x1="902" y1="144" x2="942" y2="144" stroke="#00A9EE" stroke-width="2" stroke-linecap="round"/>
<path d="M921 140.6L923.9 144L921 147.4L918.1 144Z" fill="#00B0F0"/>
<text class="l" x="945.5" y="149" textLength="29" lengthAdjust="spacingAndGlyphs">2021</text>
<line x1="902" y1="171" x2="942" y2="171" stroke="#FF0000" stroke-width="2" stroke-linecap="round"/>
<path d="M921 166.6L924.2 172.9L917.8 172.9Z" fill="#FF0000"/>
<text class="l" x="945.5" y="176" textLength="29" lengthAdjust="spacingAndGlyphs">2022</text>
<line x1="902" y1="197" x2="942" y2="197" stroke="#41A21E" stroke-width="2" stroke-linecap="round"/>
<path d="M917.9 193.9L924.1 200.1M917.9 200.1L924.1 193.9" stroke="#4EA72E" stroke-width="2.1" stroke-linecap="butt" fill="none"/>
<text class="l" x="945.5" y="202" textLength="29" lengthAdjust="spacingAndGlyphs">2023</text>
<line x1="902" y1="224" x2="942" y2="224" stroke="#7D007D" stroke-width="2" stroke-linecap="round"/>
<circle cx="921" cy="224" r="3.1" fill="#A02B93"/>
<text class="l" x="945.5" y="229" textLength="29" lengthAdjust="spacingAndGlyphs">2024</text>
<line x1="902" y1="250.5" x2="942" y2="250.5" stroke="#0000FF" stroke-width="3" stroke-linecap="round"/>
<rect x="918" y="247" width="6" height="6" fill="#0000FF"/><rect x="919" y="248" width="4" height="4" fill="#66FFFF"/>
<text class="l" x="945.5" y="256" textLength="29" lengthAdjust="spacingAndGlyphs">2025</text>
<text class="t" x="111.6" y="463" text-anchor="end" textLength="28.5" lengthAdjust="spacingAndGlyphs">0.00</text>
<text class="t" x="111.6" y="424" text-anchor="end" textLength="28.5" lengthAdjust="spacingAndGlyphs">1.00</text>
<text class="t" x="111.6" y="384" text-anchor="end" textLength="28.5" lengthAdjust="spacingAndGlyphs">2.00</text>
<text class="t" x="111.6" y="345" text-anchor="end" textLength="28.5" lengthAdjust="spacingAndGlyphs">3.00</text>
<text class="t" x="111.6" y="305" text-anchor="end" textLength="28.5" lengthAdjust="spacingAndGlyphs">4.00</text>
<text class="t" x="111.6" y="266" text-anchor="end" textLength="28.5" lengthAdjust="spacingAndGlyphs">5.00</text>
<text class="t" x="111.6" y="226" text-anchor="end" textLength="28.5" lengthAdjust="spacingAndGlyphs">6.00</text>
<text class="t" x="111.6" y="187" text-anchor="end" textLength="28.5" lengthAdjust="spacingAndGlyphs">7.00</text>
<text class="t" x="111.6" y="147" text-anchor="end" textLength="28.5" lengthAdjust="spacingAndGlyphs">8.00</text>
<text class="t" x="136.1" y="481" text-anchor="middle" textLength="7.7" lengthAdjust="spacingAndGlyphs">1</text>
<text class="t" x="163.5" y="481" text-anchor="middle" textLength="7.7" lengthAdjust="spacingAndGlyphs">3</text>
<text class="t" x="190.8" y="481" text-anchor="middle" textLength="7.7" lengthAdjust="spacingAndGlyphs">5</text>
<text class="t" x="218.2" y="481" text-anchor="middle" textLength="7.7" lengthAdjust="spacingAndGlyphs">7</text>
<text class="t" x="245.5" y="481" text-anchor="middle" textLength="7.7" lengthAdjust="spacingAndGlyphs">9</text>
<text class="t" x="272.9" y="481" text-anchor="middle" textLength="15.4" lengthAdjust="spacingAndGlyphs">11</text>
<text class="t" x="300.2" y="481" text-anchor="middle" textLength="15.4" lengthAdjust="spacingAndGlyphs">13</text>
<text class="t" x="327.6" y="481" text-anchor="middle" textLength="15.4" lengthAdjust="spacingAndGlyphs">15</text>
<text class="t" x="354.9" y="481" text-anchor="middle" textLength="15.4" lengthAdjust="spacingAndGlyphs">17</text>
<text class="t" x="382.3" y="481" text-anchor="middle" textLength="15.4" lengthAdjust="spacingAndGlyphs">19</text>
<text class="t" x="409.7" y="481" text-anchor="middle" textLength="15.4" lengthAdjust="spacingAndGlyphs">21</text>
<text class="t" x="437.0" y="481" text-anchor="middle" textLength="15.4" lengthAdjust="spacingAndGlyphs">23</text>
<text class="t" x="464.4" y="481" text-anchor="middle" textLength="15.4" lengthAdjust="spacingAndGlyphs">25</text>
<text class="t" x="491.7" y="481" text-anchor="middle" textLength="15.4" lengthAdjust="spacingAndGlyphs">27</text>
<text class="t" x="519.1" y="481" text-anchor="middle" textLength="15.4" lengthAdjust="spacingAndGlyphs">29</text>
<text class="t" x="546.4" y="481" text-anchor="middle" textLength="15.4" lengthAdjust="spacingAndGlyphs">31</text>
<text class="t" x="573.8" y="481" text-anchor="middle" textLength="15.4" lengthAdjust="spacingAndGlyphs">33</text>
<text class="t" x="601.2" y="481" text-anchor="middle" textLength="15.4" lengthAdjust="spacingAndGlyphs">35</text>
<text class="t" x="628.5" y="481" text-anchor="middle" textLength="15.4" lengthAdjust="spacingAndGlyphs">37</text>
<text class="t" x="655.9" y="481" text-anchor="middle" textLength="15.4" lengthAdjust="spacingAndGlyphs">39</text>
<text class="t" x="683.2" y="481" text-anchor="middle" textLength="15.4" lengthAdjust="spacingAndGlyphs">41</text>
<text class="t" x="710.6" y="481" text-anchor="middle" textLength="15.4" lengthAdjust="spacingAndGlyphs">43</text>
<text class="t" x="737.9" y="481" text-anchor="middle" textLength="15.4" lengthAdjust="spacingAndGlyphs">45</text>
<text class="t" x="765.3" y="481" text-anchor="middle" textLength="15.4" lengthAdjust="spacingAndGlyphs">47</text>
<text class="t" x="792.6" y="481" text-anchor="middle" textLength="15.4" lengthAdjust="spacingAndGlyphs">49</text>
<text class="t" x="820.0" y="481" text-anchor="middle" textLength="15.4" lengthAdjust="spacingAndGlyphs">51</text>
<text class="j" x="517.7" y="80" text-anchor="middle" style="font-size:16.8px">全国</text>
<text class="j" x="85.2" y="101.6" style="font-size:18px">人</text>
<text class="j" x="884.3" y="484">週</text>
</svg></body></html>
